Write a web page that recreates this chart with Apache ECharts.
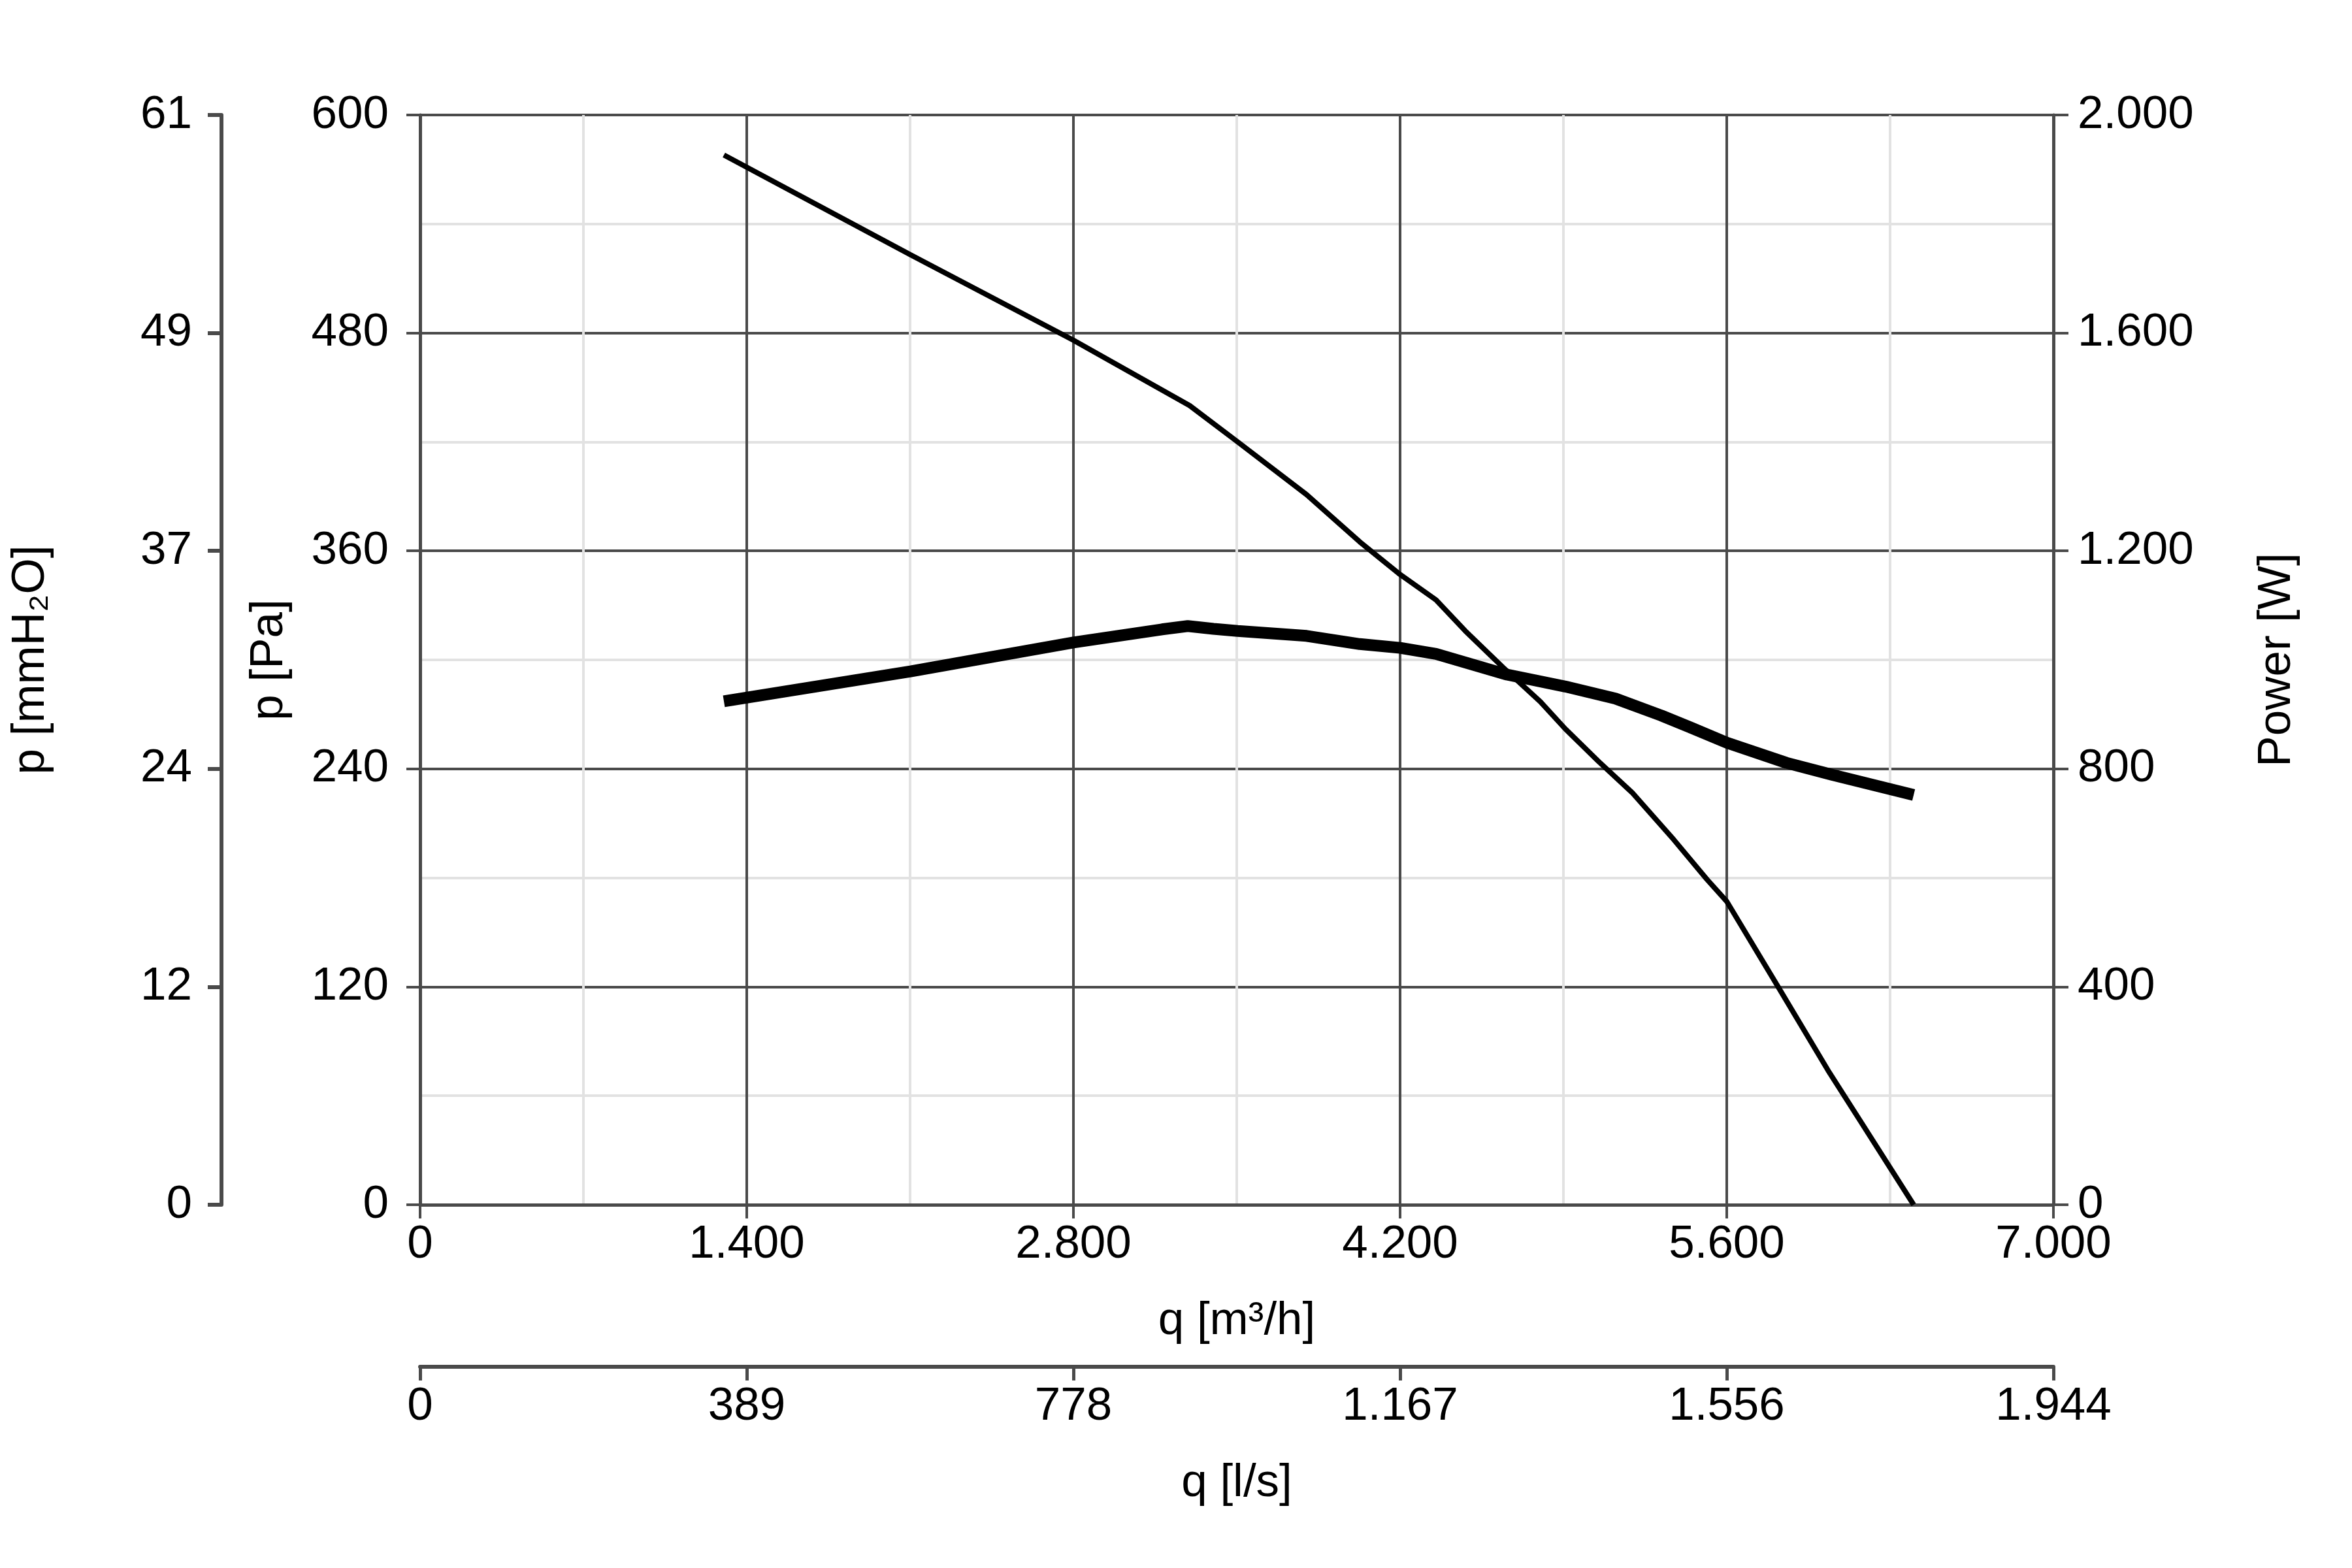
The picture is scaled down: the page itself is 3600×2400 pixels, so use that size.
<!DOCTYPE html>
<html>
<head>
<meta charset="utf-8">
<title>Kennlinie</title>
<script src="https://cdn.jsdelivr.net/npm/echarts@6/dist/echarts.min.js"></script>
<style>
  html, body { margin: 0; padding: 0; background: #fff; }
  #chart { width: 3600px; height: 2400px; }
</style>
</head>
<body>
<div id="chart"></div>
<script>
// Kennlinie: Druck und Leistung über Volumenstrom
var flowPressure  = [1302, 2102, 2800, 3298, 3504, 3799, 4027, 4200, 4354, 4479, 4640, 4801, 4908, 5051, 5194, 5373, 5516, 5600, 5820, 6034, 6178, 6401];
var pressureValues = [578, 523, 476, 440, 420, 391, 365, 347, 333, 316, 296, 277, 262, 244, 227, 201, 179, 167, 120, 74, 45, 0];

var flowPower   = [1302, 2102, 2800, 3180, 3290, 3400, 3504, 3799, 4027, 4200, 4354, 4658, 4908, 5123, 5319, 5444, 5600, 5856, 6053, 6401];
var powerValues = [924, 979, 1032, 1056, 1062, 1057, 1053, 1044, 1029, 1022, 1011, 973, 951, 929, 898, 876, 848, 811, 789, 752];

// Achsbeschriftungen
var qTicks     = ['0', '1.400', '2.800', '4.200', '5.600', '7.000'];
var qlsTicks   = ['0', '389', '778', '1.167', '1.556', '1.944'];
var paTicks    = ['0', '120', '240', '360', '480', '600'];
var mmTicks    = ['0', '12', '24', '37', '49', '61'];
var powerTicks = ['0', '400', '800', '1.200', '1.600', '2.000'];

function zip(xs, ys) {
    return xs.map(function (x, i) { return [x, ys[i]]; });
}
function pick(arr, step) {
    return function (v) { return arr[Math.round(v / step)]; };
}

var FONT = 'Liberation Sans, Arial, sans-serif';
var AXIS_COLOR = '#4a4a4a';
var MINOR_COLOR = '#e2e2e2';
var labelStyle = { color: '#000', fontSize: 71, fontFamily: FONT };

var myChart = echarts.init(document.getElementById('chart'));

var option = {
    animation: false,
    backgroundColor: '#fff',
    textStyle: { fontFamily: FONT },
    grid: {
        left: 643,
        right: 457,
        top: 176,
        bottom: 556,
        containLabel: false,
        outerBoundsMode: 'none'
    },
    xAxis: [{
        type: 'value',
        min: 0,
        max: 7000,
        interval: 1400,
        position: 'bottom',
        name: 'q [m³/h]',
        nameLocation: 'middle',
        nameGap: 143,
        nameMoveOverlap: false,
        nameTextStyle: labelStyle,
        axisLine: { show: true, onZero: false, lineStyle: { color: AXIS_COLOR, width: 5 } },
        axisTick: { show: true, inside: false, length: 21, lineStyle: { color: AXIS_COLOR, width: 4 } },
        axisLabel: Object.assign({ margin: 26, formatter: pick(qTicks, 1400), hideOverlap: false }, labelStyle),
        splitLine: { show: true, lineStyle: { color: AXIS_COLOR, width: 4 } },
        minorTick: { show: false, splitNumber: 2 },
        minorSplitLine: { show: true, lineStyle: { color: MINOR_COLOR, width: 4 } }
    }, {
        type: 'value',
        min: 0,
        max: 7000,
        interval: 1400,
        position: 'bottom',
        offset: 248,
        name: 'q [l/s]',
        nameLocation: 'middle',
        nameGap: 143,
        nameMoveOverlap: false,
        nameTextStyle: labelStyle,
        axisLine: { show: true, onZero: false, lineStyle: { color: AXIS_COLOR, width: 6 } },
        axisTick: { show: true, inside: false, length: 21, lineStyle: { color: AXIS_COLOR, width: 5 } },
        axisLabel: Object.assign({ margin: 26, formatter: pick(qlsTicks, 1400), hideOverlap: false }, labelStyle),
        splitLine: { show: false }
    }],
    yAxis: [{
        type: 'value',
        min: 0,
        max: 600,
        interval: 120,
        position: 'left',
        name: 'p [Pa]',
        nameLocation: 'middle',
        nameGap: 195,
        nameMoveOverlap: false,
        nameTextStyle: labelStyle,
        axisLine: { show: true, onZero: false, lineStyle: { color: AXIS_COLOR, width: 5 } },
        axisTick: { show: true, inside: false, length: 21, lineStyle: { color: AXIS_COLOR, width: 4 } },
        axisLabel: Object.assign({ margin: 48, formatter: pick(paTicks, 120), hideOverlap: false }, labelStyle),
        splitLine: { show: true, lineStyle: { color: AXIS_COLOR, width: 4 } },
        minorTick: { show: false, splitNumber: 2 },
        minorSplitLine: { show: true, lineStyle: { color: MINOR_COLOR, width: 4 } }
    }, {
        type: 'value',
        min: 0,
        max: 600,
        interval: 120,
        position: 'left',
        offset: 304,
        name: 'p [mmH₂O]',
        nameLocation: 'middle',
        nameGap: 256,
        nameMoveOverlap: false,
        nameTextStyle: labelStyle,
        axisLine: { show: true, onZero: false, lineStyle: { color: AXIS_COLOR, width: 6 } },
        axisTick: { show: true, inside: false, length: 21, lineStyle: { color: AXIS_COLOR, width: 6 } },
        axisLabel: Object.assign({ margin: 45, formatter: pick(mmTicks, 120), hideOverlap: false }, labelStyle),
        splitLine: { show: false }
    }, {
        type: 'value',
        min: 0,
        max: 2000,
        interval: 400,
        position: 'right',
        name: 'Power [W]',
        nameLocation: 'middle',
        nameGap: 307,
        nameMoveOverlap: false,
        nameTextStyle: labelStyle,
        axisLine: { show: true, onZero: false, lineStyle: { color: AXIS_COLOR, width: 5 } },
        axisTick: { show: true, inside: false, length: 23, lineStyle: { color: AXIS_COLOR, width: 4 } },
        axisLabel: Object.assign({ margin: 37, formatter: pick(powerTicks, 400), hideOverlap: false }, labelStyle),
        splitLine: { show: false }
    }],
    series: [{
        name: 'p',
        type: 'line',
        xAxisIndex: 0,
        yAxisIndex: 0,
        showSymbol: false,
        smooth: false,
        lineStyle: { color: '#000', width: 8 },
        data: zip(flowPressure, pressureValues)
    }, {
        name: 'Power',
        type: 'line',
        xAxisIndex: 0,
        yAxisIndex: 2,
        showSymbol: false,
        smooth: false,
        lineStyle: { color: '#000', width: 18 },
        data: zip(flowPower, powerValues)
    }]
};

myChart.setOption(option);
</script>
</body>
</html>
